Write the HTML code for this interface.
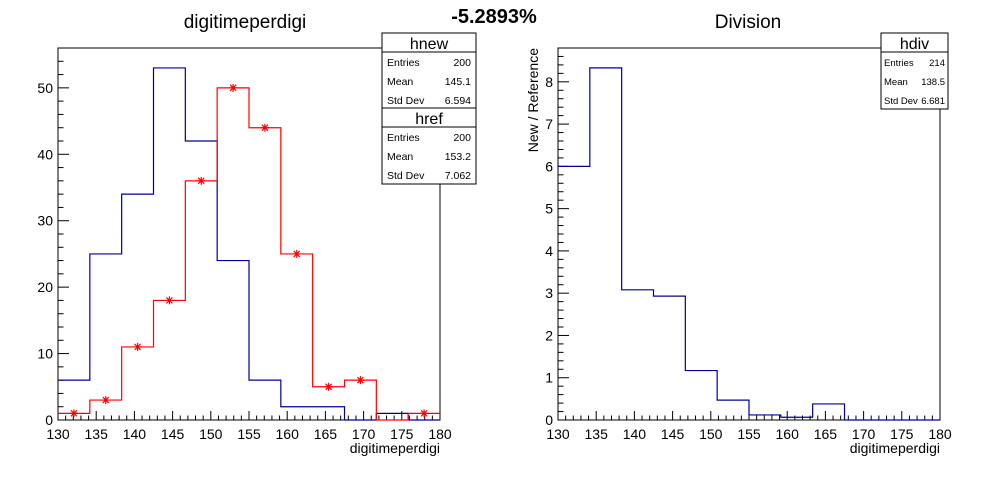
<!DOCTYPE html>
<html><head><meta charset="utf-8"><style>
body{margin:0;background:#fff}
svg{font-family:"Liberation Sans",Arial,sans-serif}
</style></head><body>
<svg id="c" width="996" height="472" viewBox="0 0 996 472">
<rect width="996" height="472" fill="#fff"/>
<text x="245" y="28" font-size="19" text-anchor="middle">digitimeperdigi</text>
<text x="494" y="23" font-size="20" font-weight="bold" text-anchor="middle">-5.2893%</text>
<text x="748" y="28" font-size="19" text-anchor="middle">Division</text>
<g id="L"></g>
<g id="R"></g>
</svg>
<script>
const xTicks=[130,135,140,145,150,155,160,165,170,175,180];
const binEdgesStart=130, binWidth=50/12;
const hnew=[6,25,34,53,42,24,6,2,2,0,1,0];
const href=[1,3,11,18,36,50,44,25,5,6,0,1];
const hdiv=[6,8.33,3.08,2.93,1.17,0.47,0.12,0.065,0.38,0,0,0];
const leftYTicks=[0,10,20,30,40,50];
const rightYTicks=[0,1,2,3,4,5,6,7,8];
const NS="http://www.w3.org/2000/svg";
function mk(p,t,a){const e=document.createElementNS(NS,t);for(const k in a)e.setAttribute(k,a[k]);p.appendChild(e);return e;}
function drawPanel(g,x0,x1,y0,y1,ymax,yTicks,yMinor,series,name){
  const sx=v=>x0+(v-130)/50*(x1-x0);
  const sy=v=>y1-v/ymax*(y1-y0);
  const fr=mk(g,'rect',{x:x0,y:y0,width:x1-x0,height:y1-y0,fill:'none',stroke:'#000','stroke-width':1});
  
  
  for(let v=130;v<=180;v++){const maj=v%5==0;mk(g,'line',{x1:sx(v),x2:sx(v),y1:y1,y2:y1-(maj?9:4.5),stroke:'#000'});}
  xTicks.forEach(v=>{const t=mk(g,'text',{x:sx(v),y:y1+19,'font-size':14,'text-anchor':'middle'});t.textContent=v;
    
    });
  for(let v=0;v<=ymax+1e-9;v+=yMinor){const maj=Math.abs(v/yTicks[1]-Math.round(v/yTicks[1]))<1e-6;mk(g,'line',{x1:x0,x2:x0+(maj?11:5.5),y1:sy(v),y2:sy(v),stroke:'#000'});}
  yTicks.forEach(v=>{const t=mk(g,'text',{x:x0-5,y:sy(v)+5,'font-size':14,'text-anchor':'end'});t.textContent=v;
    
    });
  const at=mk(g,'text',{x:x1,y:y1+33,'font-size':14,'text-anchor':'end'});at.textContent='digitimeperdigi';
  
  
  series.forEach(s=>{
    let d='';
    s.vals.forEach((v,i)=>{const a=sx(binEdgesStart+i*binWidth),b=sx(binEdgesStart+(i+1)*binWidth),y=sy(v);
      d+=(i==0?'M'+a+','+y:'L'+a+','+y)+'L'+b+','+y;});
    const p=mk(g,'path',{d:d,fill:'none',stroke:s.color,'stroke-width':1.2});
    
    
    if(s.markers){s.vals.forEach((v,i)=>{if(v<=0)return;const cx=sx(binEdgesStart+(i+0.5)*binWidth),cy=sy(v);
      const m=mk(g,'path',{d:`M${cx-4},${cy}L${cx+4},${cy}M${cx},${cy-4}L${cx},${cy+4}M${cx-3},${cy-3}L${cx+3},${cy+3}M${cx-3},${cy+3}L${cx+3},${cy-3}`,stroke:s.color,'stroke-width':1.2});
      
      });}
  });
}
function stats(g,x,y,w,title,rows,fs,pad){
  const h=76;
  const r=mk(g,'rect',{x:x,y:y,width:w,height:h,fill:'#fff',stroke:'#000'});
  
  
  mk(g,'line',{x1:x,x2:x+w,y1:y+19,y2:y+19,stroke:'#000'});
  const t=mk(g,'text',{x:x+w/2,y:y+16,'font-size':16,'text-anchor':'middle'});t.textContent=title;
  
  
  rows.forEach((rw,i)=>{const yy=y+33+i*19;
    const a=mk(g,'text',{x:x+pad,y:yy,'font-size':fs});a.textContent=rw[0];
    
    
    const b=mk(g,'text',{x:x+w-pad,y:yy,'font-size':fs,'text-anchor':'end'});b.textContent=rw[1];
    
    });
}
const L=document.getElementById('L'),R=document.getElementById('R');
drawPanel(L,58,440,48,420,56,leftYTicks,2,[{vals:hnew,color:'#000099',name:'hnew'},{vals:href,color:'#ff0000',name:'href',markers:true}],'left');
drawPanel(R,558,940,48,420,8.8,rightYTicks,0.2,[{vals:hdiv,color:'#000099',name:'hdiv'}],'right');
const yt=mk(R,'text',{x:0,y:0,'font-size':14,'text-anchor':'end',transform:'translate(538,48) rotate(-90)'});yt.textContent='New / Reference';


stats(L,382,33,94,'hnew',[['Entries','200'],['Mean','145.1'],['Std Dev','6.594']],10.5,5);
stats(L,382,108,94,'href',[['Entries','200'],['Mean','153.2'],['Std Dev','7.062']],10.5,5);
stats(R,881,33,67,'hdiv',[['Entries','214'],['Mean','138.5'],['Std Dev','6.681']],9.5,3);
</script>
</body></html>
